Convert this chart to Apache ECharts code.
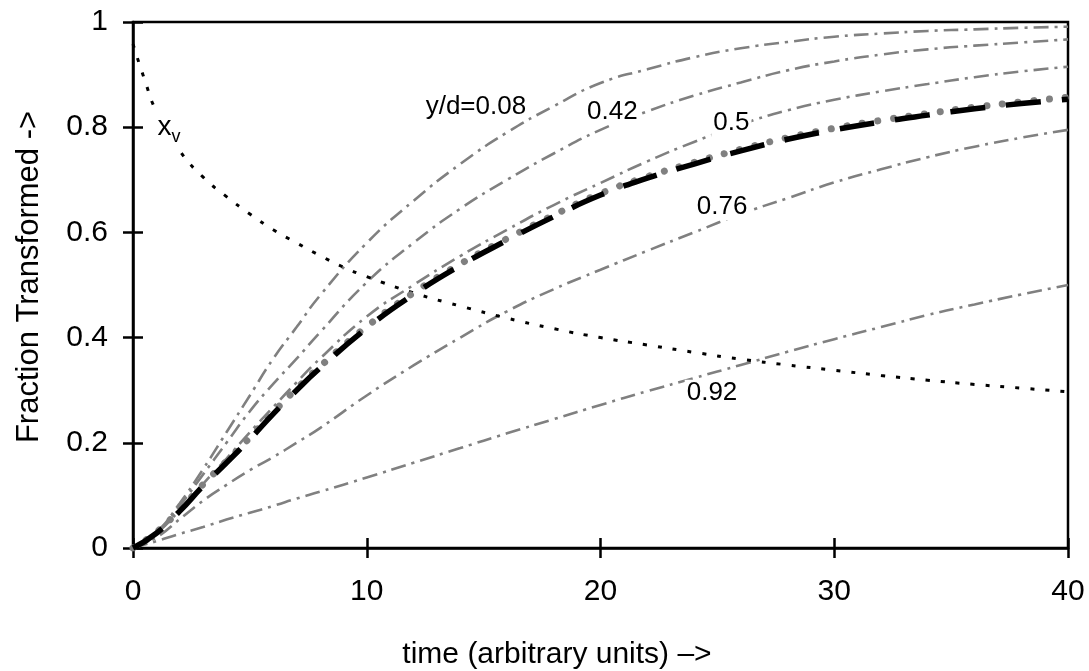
<!DOCTYPE html>
<html>
<head>
<meta charset="utf-8">
<script src="https://cdn.jsdelivr.net/npm/echarts@6/dist/echarts.min.js"></script>
<style>
html,body{margin:0;padding:0;background:#fff;}
#chart{width:1089px;height:671px;}
</style>
</head>
<body>
<div id="chart"></div>
<script>
// ---- data ----
const time   = [0, 1, 2, 3, 4, 5, 6, 7, 8, 10, 12, 14, 16, 18, 20, 22, 24, 26, 28, 30, 32, 34, 36, 38, 40];
const yd008  = [0, 0.03, 0.085, 0.15, 0.22, 0.29, 0.36, 0.42, 0.48, 0.58, 0.66, 0.73, 0.79, 0.84, 0.884, 0.91, 0.933, 0.95, 0.962, 0.972, 0.978, 0.983, 0.986, 0.989, 0.991];
const yd042  = [0, 0.028, 0.08, 0.14, 0.20, 0.26, 0.312, 0.36, 0.41, 0.505, 0.58, 0.645, 0.70, 0.75, 0.795, 0.83, 0.86, 0.885, 0.908, 0.925, 0.938, 0.948, 0.955, 0.961, 0.967];
const yd050  = [0, 0.028, 0.072, 0.122, 0.17, 0.22, 0.268, 0.315, 0.36, 0.44, 0.50, 0.555, 0.605, 0.652, 0.694, 0.735, 0.772, 0.805, 0.832, 0.852, 0.868, 0.882, 0.895, 0.906, 0.915];
const yd076  = [0, 0.02, 0.055, 0.09, 0.12, 0.148, 0.173, 0.20, 0.228, 0.29, 0.347, 0.40, 0.45, 0.492, 0.529, 0.565, 0.60, 0.635, 0.665, 0.695, 0.72, 0.743, 0.763, 0.78, 0.795];
const yd092  = [0, 0.013, 0.027, 0.04, 0.054, 0.067, 0.08, 0.094, 0.107, 0.134, 0.162, 0.19, 0.218, 0.245, 0.272, 0.298, 0.323, 0.348, 0.373, 0.397, 0.42, 0.443, 0.463, 0.482, 0.50];
const average = [0, 0.028, 0.07, 0.118, 0.162, 0.207, 0.255, 0.30, 0.342, 0.418, 0.482, 0.537, 0.585, 0.63, 0.671, 0.703, 0.73, 0.755, 0.777, 0.795, 0.81, 0.823, 0.835, 0.845, 0.853];
const modelFit = [0, 0.03, 0.073, 0.121, 0.165, 0.21, 0.258, 0.303, 0.345, 0.421, 0.485, 0.54, 0.588, 0.633, 0.674, 0.706, 0.733, 0.758, 0.78, 0.798, 0.813, 0.826, 0.838, 0.848, 0.857];
const xvTime = [0, 0.5, 1, 2, 3, 4, 5, 6, 7, 8, 9, 10, 12, 14, 16, 18, 20, 22, 24, 26, 28, 30, 32, 34, 36, 38, 40];
const xv     = [0.958, 0.89, 0.83, 0.755, 0.705, 0.668, 0.635, 0.605, 0.58, 0.556, 0.534, 0.516, 0.485, 0.46, 0.437, 0.417, 0.40, 0.386, 0.372, 0.359, 0.348, 0.338, 0.328, 0.319, 0.311, 0.304, 0.297];
const labelText = ['y/d=0.08', '0.42', '0.5', '0.76', '0.92', '{a|x}{b|v}'];
const labelT    = [14.67, 20.51, 25.6, 25.2, 24.77, 1.54];
const labelV    = [0.838, 0.829, 0.808, 0.648, 0.295, 0.795];
const xName = 'time (arbitrary units) \u2013>';
const yName = 'Fraction Transformed ->';

// ---- chart ----
const FONT = '"Liberation Sans", Arial, Helvetica, sans-serif';
const pairs = (xs, ys) => xs.map((x, i) => [x, ys[i]]);
const grayDashDot = { color: '#808080', width: 2.6, type: [15, 6, 3, 6] };
const gridRect = { left: 133, right: 21, top: 22, bottom: 123, outerBoundsMode: 'none' };

function grayCurve(name, vals) {
  return {
    name, type: 'line', data: pairs(time, vals), smooth: true, showSymbol: false,
    symbol: 'none', lineStyle: grayDashDot, z: 2, silent: true
  };
}

const chart = echarts.init(document.getElementById('chart'), null, { renderer: 'canvas' });
chart.setOption({
  backgroundColor: '#fff',
  animation: false,
  grid: [
    Object.assign({ show: true, borderColor: '#000', borderWidth: 2.5, backgroundColor: 'transparent' }, gridRect),
    Object.assign({ show: false }, gridRect)
  ],
  xAxis: [
    {
      type: 'value', gridIndex: 0, min: 0, max: 40, interval: 10,
      name: xName, nameLocation: 'middle', nameGap: 92,
      nameTextStyle: { fontFamily: FONT, fontSize: 30, color: '#000', padding: [0, 87, 0, 0] },
      axisLine: { show: true, lineStyle: { color: '#000', width: 2.5 } },
      axisTick: { show: true, inside: false, length: 10, lineStyle: { color: '#000', width: 2.5 } },
      axisLabel: { fontFamily: FONT, fontSize: 30, color: '#000', margin: 29 },
      splitLine: { show: false }
    },
    {
      type: 'value', gridIndex: 1, min: 0, max: 40, interval: 10,
      axisLine: { show: false },
      axisTick: { show: true, inside: true, length: 10, lineStyle: { color: '#000', width: 2.5 } },
      axisLabel: { show: false },
      splitLine: { show: false }
    }
  ],
  yAxis: [
    {
      type: 'value', gridIndex: 0, min: 0, max: 1, interval: 0.2,
      name: yName, nameLocation: 'middle', nameGap: 88,
      nameTextStyle: { fontFamily: FONT, fontSize: 31, color: '#000', padding: [0, 0, 0, 16] },
      axisLine: { show: true, lineStyle: { color: '#000', width: 2.5 } },
      axisTick: { show: true, inside: false, length: 10, lineStyle: { color: '#000', width: 2.5 } },
      axisLabel: { fontFamily: FONT, fontSize: 30, color: '#000', margin: 25 },
      splitLine: { show: false }
    },
    {
      type: 'value', gridIndex: 1, min: 0, max: 1, interval: 0.2,
      axisLine: { show: false },
      axisTick: { show: true, inside: true, length: 10, lineStyle: { color: '#000', width: 2.5 } },
      axisLabel: { show: false },
      splitLine: { show: false }
    }
  ],
  series: [
    grayCurve('y/d=0.08', yd008),
    grayCurve('y/d=0.42', yd042),
    grayCurve('y/d=0.5', yd050),
    grayCurve('y/d=0.76', yd076),
    grayCurve('y/d=0.92', yd092),
    {
      name: 'x_v', type: 'line', data: pairs(xvTime, xv), smooth: true, symbol: 'none',
      lineStyle: { color: '#000', width: 3, type: [4, 11] }, z: 3, silent: true
    },
    {
      name: 'model', type: 'line', data: pairs(time, modelFit), smooth: true, symbol: 'none',
      lineStyle: { color: '#808080', width: 7, type: [0.01, 15.7], cap: 'round' }, z: 4, silent: true
    },
    {
      name: 'average', type: 'line', data: pairs(time, average), smooth: true, symbol: 'none',
      lineStyle: { color: '#000', width: 5.5, type: [35, 21], cap: 'butt' }, z: 5, silent: true
    },
    {
      name: 'labels', type: 'scatter', symbolSize: 0, z: 10, silent: true,
      itemStyle: { opacity: 1 },
      data: labelText.map((t, i) => ({ name: t, value: [labelT[i], labelV[i]] })),
      label: {
        show: true, position: 'inside', formatter: p => p.name,
        fontFamily: FONT, fontSize: 26, color: '#000', opacity: 1,
        textBorderWidth: 0, textBorderColor: 'transparent',
        backgroundColor: '#fff', padding: [0, 2],
        rich: {
          a: { fontFamily: FONT, fontSize: 28, color: '#000', verticalAlign: 'bottom', padding: [0, 0, 5, 0] },
          b: { fontFamily: FONT, fontSize: 18, color: '#000', verticalAlign: 'bottom' }
        }
      }
    }
  ]
});
</script>
</body>
</html>
